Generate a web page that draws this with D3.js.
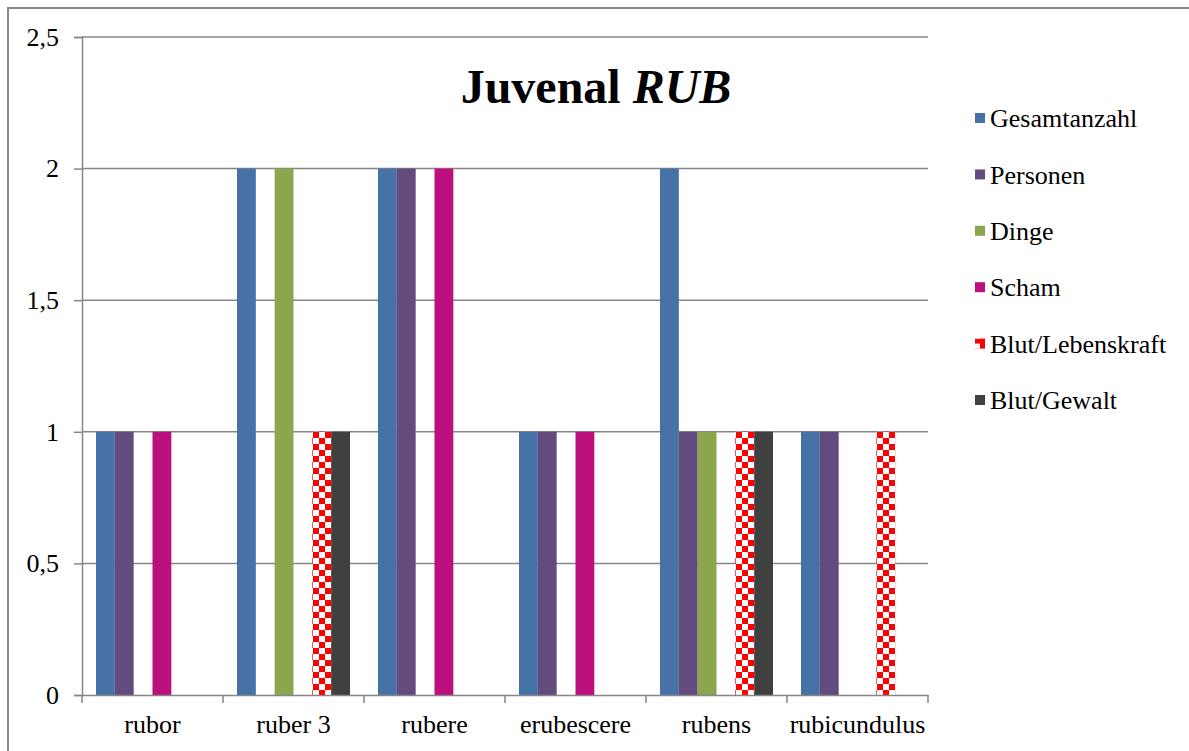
<!DOCTYPE html>
<html>
<head>
<meta charset="utf-8">
<script src="https://cdn.jsdelivr.net/npm/d3@7"></script>
<style>
  html, body { margin: 0; padding: 0; background: #fff; }
  svg { display: block; }
</style>
</head>
<body>
<svg id="chart" width="1189" height="751"></svg>
<script>
// Word forms of the root RUB in Juvenal
const categories = ["rubor", "ruber 3", "rubere", "erubescere", "rubens", "rubicundulus"];
const seriesNames = ["Gesamtanzahl", "Personen", "Dinge", "Scham", "Blut/Lebenskraft", "Blut/Gewalt"];
const gesamtanzahl    = [1, 2, 2, 1, 2, 1];
const personen        = [1, 0, 2, 1, 1, 1];
const dinge           = [0, 2, 0, 0, 1, 0];
const scham           = [1, 0, 2, 1, 0, 0];
const blutLebenskraft = [0, 1, 0, 0, 1, 1];
const blutGewalt      = [0, 1, 0, 0, 1, 0];
const yTicks = [0, 0.5, 1, 1.5, 2, 2.5];

const seriesValues = [gesamtanzahl, personen, dinge, scham, blutLebenskraft, blutGewalt];
const colors = ["#4672a8", "#634b7d", "#8ba64d", "#bb0f7e", "url(#checker)", "#404040"];

const svg = d3.select("#chart");
const font = "Liberation Serif, Times New Roman, serif";

// checkered fill for Blut/Lebenskraft
const defs = svg.append("defs");
const pat = defs.append("pattern")
  .attr("id", "checker").attr("patternUnits", "userSpaceOnUse")
  .attr("width", 12).attr("height", 12);
pat.append("rect").attr("width", 12).attr("height", 12).attr("fill", "#ff0000");
pat.append("rect").attr("x", 0).attr("y", 0).attr("width", 6).attr("height", 6).attr("fill", "#ffffff");
pat.append("rect").attr("x", 6).attr("y", 6).attr("width", 6).attr("height", 6).attr("fill", "#ffffff");

const legendPat = defs.append("pattern")
  .attr("id", "checkerSmall").attr("patternUnits", "userSpaceOnUse")
  .attr("width", 10).attr("height", 10);
legendPat.append("rect").attr("width", 10).attr("height", 10).attr("fill", "#ff0000");
legendPat.append("rect").attr("x", 0).attr("y", 0).attr("width", 5).attr("height", 5).attr("fill", "#ffffff");

// outer frame
svg.append("rect").attr("x", 8).attr("y", 8).attr("width", 1200).attr("height", 800)
  .attr("fill", "none").attr("stroke", "#898989").attr("stroke-width", 2);

const plot = { left: 82, right: 928, top: 37, bottom: 695 };

const y = d3.scaleLinear().domain([0, 2.5]).range([plot.bottom, plot.top]);
const x0 = d3.scaleBand().domain(categories).range([plot.left, plot.right]);
const x1 = d3.scaleBand().domain(seriesNames).range([14, x0.bandwidth() - 14]);

// gridlines
svg.append("g").selectAll("line").data(yTicks.filter(d => d > 0)).join("line")
  .attr("x1", plot.left).attr("x2", plot.right)
  .attr("y1", d => y(d)).attr("y2", d => y(d))
  .attr("stroke", "#868686").attr("stroke-width", 1.5);

// bars
const groups = svg.append("g").selectAll("g").data(categories).join("g")
  .attr("transform", c => `translate(${x0(c)},0)`);
groups.selectAll("rect")
  .data((c, ci) => seriesNames.map((s, si) => ({ s, si, v: seriesValues[si][ci] })))
  .join("rect")
  .filter(d => d.v > 0)
  .attr("x", d => x1(d.s))
  .attr("width", x1.bandwidth())
  .attr("y", d => y(d.v))
  .attr("height", d => y(0) - y(d.v))
  .attr("fill", d => colors[d.si]);

// y axis
const yAxis = d3.axisLeft(y).tickValues(yTicks).tickSize(8).tickPadding(15)
  .tickFormat(d => String(d).replace(".", ","));
const gy = svg.append("g").attr("transform", `translate(${plot.left},0)`).call(yAxis)
  .attr("font-family", font).attr("font-size", 26);
gy.select(".domain").attr("stroke", "#868686").attr("stroke-width", 1.5);
gy.selectAll(".tick line").attr("stroke", "#868686").attr("stroke-width", 1.5);
gy.selectAll(".tick text").attr("fill", "#000");

// x axis
const xAxis = d3.axisBottom(x0).tickSize(0).tickPadding(20);
const gx = svg.append("g").attr("transform", `translate(0,${plot.bottom})`).call(xAxis)
  .attr("font-family", font).attr("font-size", 26);
gx.select(".domain").attr("stroke", "#868686").attr("stroke-width", 1.5);
gx.selectAll(".tick text").attr("fill", "#000");
// category separator ticks
svg.append("g").selectAll("line")
  .data(categories.map(c => x0(c)).concat([plot.right])).join("line")
  .attr("x1", d => d).attr("x2", d => d)
  .attr("y1", plot.bottom).attr("y2", plot.bottom + 8)
  .attr("stroke", "#868686").attr("stroke-width", 1.5);

// title
const title = svg.append("text")
  .attr("x", 596).attr("y", 103).attr("text-anchor", "middle")
  .attr("font-family", font).attr("font-size", 48).attr("font-weight", "bold").attr("fill", "#000");
title.append("tspan").text("Juvenal ");
title.append("tspan").attr("font-style", "italic").text("RUB");

// legend
const legend = svg.append("g").selectAll("g").data(seriesNames).join("g")
  .attr("transform", (d, i) => `translate(975,${118 + i * 56.4})`);
legend.append("rect").attr("x", 0).attr("y", -5).attr("width", 10).attr("height", 10)
  .attr("fill", (d, i) => i === 4 ? "url(#checkerSmall)" : colors[i]);
legend.append("text").attr("x", 15).attr("y", 0).attr("dy", "0.35em")
  .attr("font-family", font).attr("font-size", 26).attr("fill", "#000")
  .text(d => d);
</script>
</body>
</html>
